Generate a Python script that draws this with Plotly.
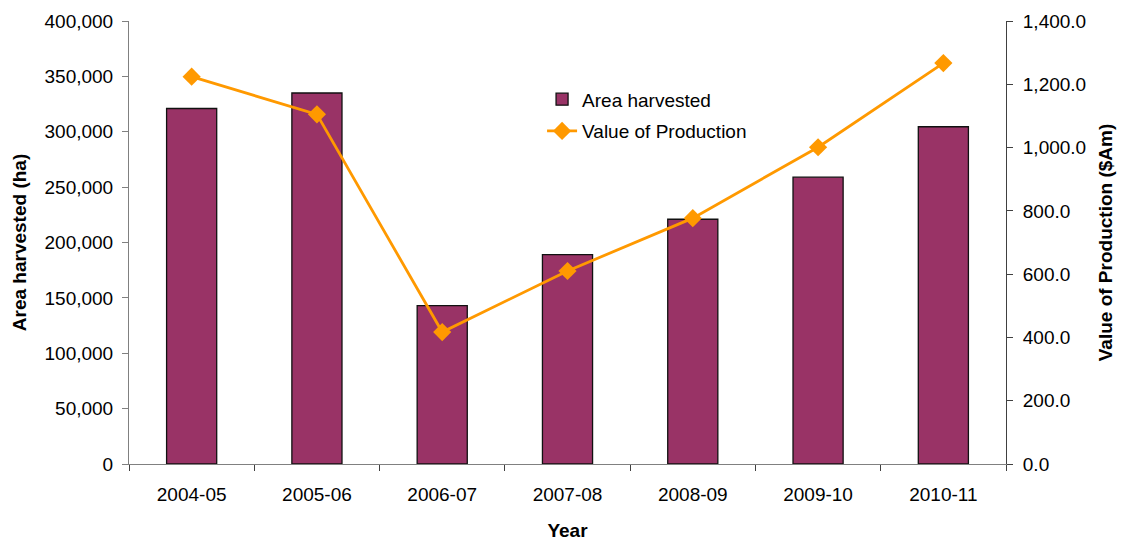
import plotly.graph_objects as go

years = ["2004-05", "2005-06", "2006-07", "2007-08", "2008-09", "2009-10", "2010-11"]
area_harvested = [321000, 335000, 143000, 189000, 221000, 259000, 304500]
value_production = [1224, 1105, 417, 610, 777, 1001, 1267]

fig = go.Figure()
fig.add_trace(go.Bar(
    x=years, y=area_harvested, name="Area harvested", legendgroup="a",
    marker=dict(color="#993366", line=dict(color="#111111", width=1.3)),
    width=0.4, yaxis="y",
))
fig.add_trace(go.Scatter(
    x=years, y=value_production, name="Value of Production", legendgroup="b",
    mode="lines+markers",
    line=dict(color="#FF9900", width=2.8),
    marker=dict(symbol="diamond", size=14, color="#FF9900"),
    yaxis="y2",
))

font = "Liberation Sans, Arial, sans-serif"
fs = 19
fig.update_layout(
    width=1126, height=540,
    margin=dict(l=121, r=128, t=13, b=84, autoexpand=False),
    paper_bgcolor="white", plot_bgcolor="white",
    font=dict(family=font, size=fs, color="#000000"),
    showlegend=True,
    legend=dict(x=0.471, y=0.866, xanchor="left", yanchor="top",
                traceorder="grouped", tracegroupgap=4,
                font=dict(family=font, size=fs), bgcolor="rgba(0,0,0,0)"),
    xaxis=dict(
        type="category", showgrid=False, showline=True, linecolor="#808080",
        ticks="outside", tickson="boundaries", ticklen=6, tickcolor="#404040",
        tickfont=dict(size=fs), automargin=False, ticklabelstandoff=13,
        title=dict(text="<b>Year</b>", font=dict(size=fs), standoff=19),
    ),
    yaxis=dict(
        range=[0, 400000], dtick=50000, tickformat=",", showgrid=False,
        showline=True, linecolor="#808080", ticks="outside", ticklen=6,
        tickcolor="#808080", tickfont=dict(size=fs), zeroline=False, automargin=False,
        ticklabelstandoff=5,
        title=dict(text="<b>Area harvested (ha)</b>", font=dict(size=fs), standoff=12),
    ),
    yaxis2=dict(
        range=[0, 1400], dtick=200, tickformat=",.1f", overlaying="y", side="right",
        showgrid=False, showline=True, linecolor="#404040", ticks="outside",
        ticklen=6, tickcolor="#404040", tickfont=dict(size=fs), zeroline=False,
        automargin=False, ticklabelstandoff=6,
        title=dict(text="<b>Value of Production ($Am)</b>", font=dict(size=fs), standoff=13),
    ),
)

fig.write_html("out.html")
